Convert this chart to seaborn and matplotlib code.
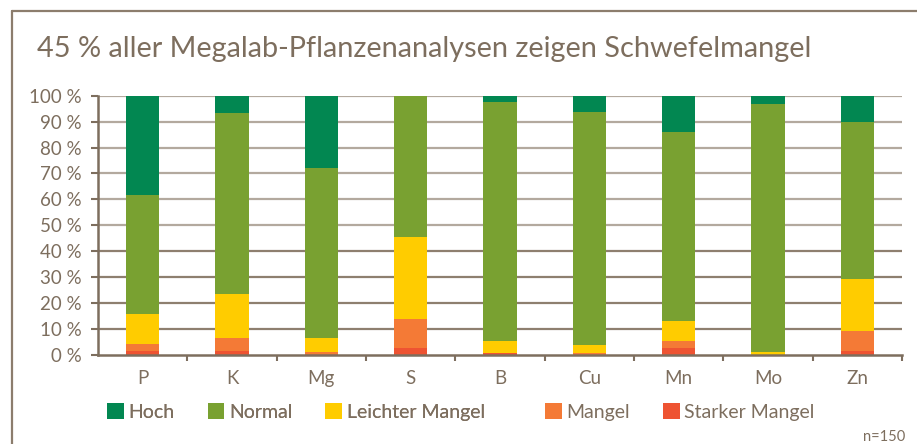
import matplotlib
matplotlib.use("Agg")
import matplotlib.pyplot as plt
import seaborn as sns
import numpy as np
import pandas as pd
from matplotlib.patches import Patch
from matplotlib.lines import Line2D

categories = ["P", "K", "Mg", "S", "B", "Cu", "Mn", "Mo", "Zn"]
starker = [1.7, 1.7, 0.0, 2.8, 0.9, 0.0, 2.8, 0.0, 1.7]
mangel = [2.7, 5.0, 1.3, 10.9, 0.0, 0.9, 2.7, 0.0, 7.7]
leichter = [11.6, 17.0, 5.4, 31.7, 4.6, 3.1, 7.8, 1.3, 20.1]
normal = [45.6, 69.6, 65.3, 54.6, 92.0, 89.7, 72.7, 95.5, 60.3]
hoch = [38.4, 6.7, 28.6, 0.0, 2.5, 6.3, 14.0, 3.2, 10.2]
series_names = ["Hoch", "Normal", "Leichter Mangel", "Mangel", "Starker Mangel"]
colors = {"Hoch": "#028751", "Normal": "#79A131", "Leichter Mangel": "#FFCC00",
          "Mangel": "#F47A36", "Starker Mangel": "#EE5332"}
title = "45 % aller Megalab-Pflanzenanalysen zeigen Schwefelmangel"
yticks = [0, 10, 20, 30, 40, 50, 60, 70, 80, 90, 100]
ytick_labels = [f"{v} %" for v in yticks]
note = "n=150"

TXT = "#7D6E5E"
FONT = ["Lato", "DejaVu Sans"]

sns.set_theme(style="white")
plt.rcParams["font.family"] = FONT

# stacked: bottom-up layers, drawn as cumulative totals from top to bottom
layers = [("Starker Mangel", starker), ("Mangel", mangel),
          ("Leichter Mangel", leichter), ("Normal", normal), ("Hoch", hoch)]
cum = np.zeros(len(categories))
cums = {}
for name, vals in layers:
    cum = cum + np.array(vals)
    cums[name] = cum.copy()

fig = plt.figure(figsize=(9.17, 4.44), dpi=100)
ax = fig.add_axes([98 / 917, 1 - 355 / 444, (902 - 98) / 917, (355 - 95.7) / 444])

for name in ["Hoch", "Normal", "Leichter Mangel", "Mangel", "Starker Mangel"]:
    df = pd.DataFrame({"cat": categories, "val": cums[name]})
    sns.barplot(data=df, x="cat", y="val", color=colors[name], width=0.37,
                saturation=1, ax=ax, zorder=3, linewidth=0, edgecolor="none")

ax.set_xlim(-0.5, len(categories) - 0.5)
ax.set_ylim(0, 100)
ax.set_xlabel("")
ax.set_ylabel("")
ax.set_yticks(yticks)
ax.set_yticklabels(ytick_labels)
ax.set_xticks(range(len(categories)))
ax.set_xticklabels(categories)
ax.set_xticks(np.arange(0.5, len(categories) - 0.4, 1), minor=True)

for v in yticks[1:]:
    c = "#B3A99E" if v >= 50 else "#8E7F6F"
    ax.axhline(v, color=c, lw=1.6, zorder=1)

for s in ["top", "right"]:
    ax.spines[s].set_visible(False)
for s in ["left", "bottom"]:
    ax.spines[s].set_color("#7D6E5E")
    ax.spines[s].set_linewidth(1.8)
    ax.spines[s].set_zorder(4)

ax.tick_params(axis="y", which="major", left=True, length=5, width=1.5, color="#7D6E5E",
               labelsize=13.5, labelcolor=TXT, pad=7)
ax.tick_params(axis="x", which="major", bottom=False, length=0, labelsize=13.5,
               labelcolor=TXT, pad=11)
ax.tick_params(axis="x", which="minor", bottom=True, length=4, width=1.5, color="#7D6E5E")

fig.text(37 / 917, 1 - 57 / 444, title, fontsize=20.8, color=TXT, va="baseline", ha="left")
fig.text(905 / 917, 1 - 441 / 444, note, fontsize=10.5, color=TXT, va="baseline", ha="right")

# outer frame (left and top lines)
fig.add_artist(Line2D([12 / 917, 12 / 917], [0, 1 - 11 / 444], transform=fig.transFigure,
                      color="#8C7D6D", lw=1.6))
fig.add_artist(Line2D([12 / 917, 1], [1 - 11 / 444, 1 - 11 / 444], transform=fig.transFigure,
                      color="#8C7D6D", lw=1.6))

def leg(names, x):
    handles = [Patch(facecolor=colors[n], edgecolor="none", label=n) for n in names]
    lg = fig.legend(handles=handles, loc="center left", bbox_to_anchor=(x, 1 - 412 / 444),
                    ncol=len(names), frameon=False, fontsize=14, labelcolor=TXT,
                    handlelength=0.85, handleheight=0.85, handletextpad=0.25,
                    columnspacing=1.7, borderpad=0, borderaxespad=0)
    return lg

l1 = leg(["Hoch", "Normal", "Leichter Mangel"], 107 / 917)
fig.add_artist(l1)
leg(["Mangel", "Starker Mangel"], 545 / 917)

fig.savefig("out.png", dpi=100)
